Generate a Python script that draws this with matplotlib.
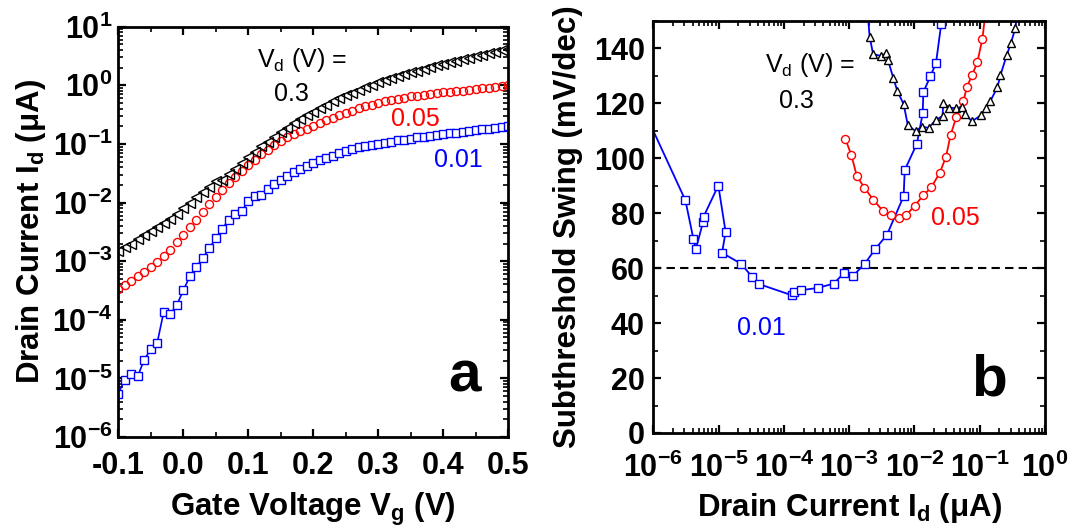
import numpy as np
import matplotlib
matplotlib.use('Agg')
import matplotlib.pyplot as plt
from matplotlib.ticker import MultipleLocator, LogLocator, FuncFormatter, NullFormatter

plt.rcParams['font.family'] = ['Liberation Sans', 'DejaVu Sans']
plt.rcParams['mathtext.fontset'] = 'custom'
plt.rcParams['mathtext.rm'] = 'Liberation Sans'
plt.rcParams['mathtext.bf'] = 'Liberation Sans:bold'
plt.rcParams['mathtext.it'] = 'Liberation Sans:italic'
plt.rcParams['axes.unicode_minus'] = False

# ---- panel a: transfer curves, log10 of Id (uA) vs Vg (V)
vg = [-0.10, -0.09, -0.08, -0.07, -0.06, -0.05, -0.04, -0.03, -0.02, -0.01,
      0.00, 0.01, 0.02, 0.03, 0.04, 0.05, 0.06, 0.07, 0.08, 0.09,
      0.10, 0.11, 0.12, 0.13, 0.14, 0.15, 0.16, 0.17, 0.18, 0.19,
      0.20, 0.21, 0.22, 0.23, 0.24, 0.25, 0.26, 0.27, 0.28, 0.29,
      0.30, 0.31, 0.32, 0.33, 0.34, 0.35, 0.36, 0.37, 0.38, 0.39,
      0.40, 0.41, 0.42, 0.43, 0.44, 0.45, 0.46, 0.47, 0.48, 0.49, 0.50]

log_id_001 = [-5.26, -5.02, -4.92, -4.96, -4.68, -4.50, -4.39, -3.86, -3.90, -3.75,
              -3.50, -3.26, -3.10, -2.95, -2.78, -2.61, -2.45, -2.29, -2.19, -2.15,
              -1.97, -1.88, -1.87, -1.77, -1.68, -1.61, -1.54, -1.48, -1.42, -1.37,
              -1.33, -1.28, -1.24, -1.20, -1.16, -1.12, -1.09, -1.06, -1.04, -1.02,
              -1.00, -0.98, -0.96, -0.94, -0.93, -0.91, -0.89, -0.88, -0.86, -0.85,
              -0.83, -0.82, -0.81, -0.79, -0.78, -0.77, -0.75, -0.74, -0.73, -0.71, -0.70]

log_id_005 = [-3.48, -3.40, -3.34, -3.26, -3.18, -3.10, -3.01, -2.92, -2.81, -2.68,
              -2.55, -2.42, -2.29, -2.16, -2.03, -1.90, -1.78, -1.66, -1.56, -1.46,
              -1.36, -1.27, -1.18, -1.10, -1.02, -0.95, -0.89, -0.83, -0.78, -0.74,
              -0.69, -0.64, -0.59, -0.55, -0.51, -0.47, -0.43, -0.39, -0.36, -0.33,
              -0.30, -0.27, -0.25, -0.23, -0.21, -0.19, -0.18, -0.16, -0.15, -0.13,
              -0.12, -0.11, -0.10, -0.09, -0.08, -0.07, -0.05, -0.04, -0.03, -0.01, 0.00]

log_id_03 = [-2.82, -2.76, -2.70, -2.63, -2.56, -2.49, -2.42, -2.35, -2.28, -2.19,
             -2.09, -2.00, -1.91, -1.82, -1.73, -1.64, -1.61, -1.52, -1.43, -1.33,
             -1.22, -1.13, -1.04, -0.96, -0.88, -0.80, -0.72, -0.65, -0.58, -0.51,
             -0.45, -0.39, -0.33, -0.27, -0.22, -0.17, -0.13, -0.08, -0.03, 0.01,
             0.05, 0.09, 0.12, 0.16, 0.19, 0.22, 0.25, 0.28, 0.31, 0.34,
             0.37, 0.40, 0.42, 0.45, 0.47, 0.50, 0.52, 0.55, 0.57, 0.60, 0.62]

# ---- panel b: subthreshold swing (mV/dec) vs Id (uA)
id_b_001 = [8.0e-7, 3.1e-6, 4.1e-6, 4.5e-6, 5.8e-6, 5.9e-6, 9.9e-6, 1.28e-5, 1.13e-5,
            2.22e-5, 3.24e-5, 4.19e-5, 1.34e-4, 1.41e-4, 1.85e-4, 3.28e-4, 5.83e-4,
            8.43e-4, 1.16e-3, 1.73e-3, 2.5e-3, 3.8e-3, 6.84e-3, 7.1e-3, 1.09e-2,
            1.34e-2, 1.37e-2, 1.76e-2, 2.14e-2, 2.57e-2, 2.8e-2]
ss_001 = [115, 84.7, 70.8, 67.1, 77.0, 78.8, 90.1, 73.2, 65.6,
          61.6, 56.9, 54.2, 50.1, 51.5, 52.0, 52.8, 54.4,
          58.4, 57.3, 61.6, 66.9, 72.2, 86.2, 95.7, 105.3,
          116.4, 124.1, 129.9, 134.7, 148.8, 165]

id_b_005 = [8.73e-4, 1.08e-3, 1.31e-3, 1.71e-3, 2.33e-3, 3.28e-3, 4.3e-3, 5.83e-3,
            7.45e-3, 1.01e-2, 1.37e-2, 1.82e-2, 2.45e-2, 3.05e-2, 3.57e-2, 4.4e-2,
            5.62e-2, 6.35e-2, 7.64e-2, 9.18e-2, 0.110, 0.132]
ss_005 = [107.1, 101.2, 93.6, 89.3, 85.0, 80.9, 79.2, 78.2,
          79.2, 82.8, 86.5, 89.5, 94.8, 100.6, 108.4, 115.1,
          120.7, 125.9, 130.3, 134.9, 143.5, 160]

id_b_03 = [1.75e-3, 2.06e-3, 2.33e-3, 3.09e-3, 3.71e-3, 3.94e-3, 4.74e-3, 5.49e-3,
           6.84e-3, 7.92e-3, 1.04e-2, 1.29e-2, 1.65e-2, 2.11e-2, 2.70e-2, 2.76e-2,
           3.36e-2, 4.4e-2, 5.3e-2, 5.98e-2, 7.64e-2, 0.106, 0.125, 0.146,
           0.187, 0.208, 0.26, 0.30, 0.353, 0.40]
ss_03 = [165, 144.3, 137.9, 137.3, 138.2, 135.7, 129.3, 124.4,
         119.7, 112.1, 109.9, 111.5, 111.1, 113.9, 115.4, 120.3,
         118.5, 118.2, 118.8, 116.0, 113.5, 115.8, 118.5, 120.9,
         125.9, 130.3, 137.6, 141.9, 147.5, 160]

fig = plt.figure(figsize=(10.84, 5.29), dpi=100)
ax1 = fig.add_axes([0.1091, 0.1739, 0.3598, 0.7756])
ax2 = fig.add_axes([0.6027, 0.1815, 0.3613, 0.7788])


def style_axes(ax):
    for s in ax.spines.values():
        s.set_linewidth(2)
    ax.tick_params(which='both', direction='in', top=True, right=True)
    ax.tick_params(which='major', length=6, width=1.6, labelsize=22)
    ax.tick_params(which='minor', length=3.5, width=1.2)
    for lab in ax.get_xticklabels() + ax.get_yticklabels():
        lab.set_fontweight('bold')


def pow10(v, pos):
    return r'$\mathbf{10^{%d}}$' % int(round(np.log10(v)))


# panel a
vg_arr = np.array(vg)
ax1.plot(vg_arr, 10 ** np.array(log_id_001), '-', color='blue', lw=1.2,
         marker='s', ms=5.2, mfc='white', mec='blue', mew=1.0)
ax1.plot(vg_arr, 10 ** np.array(log_id_005), 'none', marker='o', ms=5.8,
         mfc='none', mec='red', mew=1.0)
ax1.plot(vg_arr, 10 ** np.array(log_id_03), 'none', marker='<', ms=6.5,
         mfc='none', mec='black', mew=1.0)
ax1.set_yscale('log')
ax1.set_xlim(-0.1, 0.5)
ax1.set_ylim(1e-6, 1e1)
ax1.xaxis.set_major_locator(MultipleLocator(0.1))
ax1.xaxis.set_minor_locator(MultipleLocator(0.05))
ax1.xaxis.set_major_formatter(FuncFormatter(lambda v, p: '%.1f' % v))
ax1.yaxis.set_major_locator(LogLocator(base=10, numticks=20))
ax1.yaxis.set_minor_locator(LogLocator(base=10, subs=np.arange(2, 10), numticks=20))
ax1.yaxis.set_major_formatter(FuncFormatter(pow10))
ax1.yaxis.set_minor_formatter(NullFormatter())
style_axes(ax1)
ax1.tick_params(axis='x', pad=10)
ax1.tick_params(axis='y', pad=4)
ax1.set_xlabel(r'Gate Voltage V$_\mathbf{g}$ (V)', fontsize=22.5, fontweight='bold')
ax1.set_ylabel(r'Drain Current I$_\mathbf{d}$ (μA)', fontsize=22.5, fontweight='bold')
ax1.xaxis.set_label_coords(0.5, -0.13)
ax1.xaxis.label.set_va('top')
ax1.yaxis.set_label_coords(-0.225, 0.5)
ax1.yaxis.label.set_va('center')

ax1.text(0.355, 0.902, r'V$_\mathrm{d}$ (V) =', transform=ax1.transAxes, fontsize=18)
ax1.text(0.40, 0.818, '0.3', transform=ax1.transAxes, fontsize=18, color='black')
ax1.text(0.700, 0.757, '0.05', transform=ax1.transAxes, fontsize=18, color='red')
ax1.text(0.810, 0.657, '0.01', transform=ax1.transAxes, fontsize=18, color='blue')
ax1.text(0.845, 0.112, 'a', transform=ax1.transAxes, fontsize=42, fontweight='bold')

# panel b
ax2.axhline(60, color='black', lw=1.5, ls=(0, (4, 2.5)))
ax2.plot(id_b_001, ss_001, '-', color='blue', lw=1.3,
         marker='s', ms=5.4, mfc='white', mec='blue', mew=1.0)
ax2.plot(id_b_005, ss_005, '-', color='red', lw=1.3,
         marker='o', ms=5.8, mfc='white', mec='red', mew=1.0)
ax2.plot(id_b_03, ss_03, '-', color='blue', lw=1.3,
         marker='^', ms=6.4, mfc='white', mec='black', mew=1.0)
ax2.set_xscale('log')
ax2.set_xlim(1e-6, 1e0)
ax2.set_ylim(0, 150)
ax2.yaxis.set_major_locator(MultipleLocator(20))
ax2.yaxis.set_minor_locator(MultipleLocator(10))
ax2.xaxis.set_major_locator(LogLocator(base=10, numticks=20))
ax2.xaxis.set_minor_locator(LogLocator(base=10, subs=np.arange(2, 10), numticks=20))
ax2.xaxis.set_major_formatter(FuncFormatter(pow10))
ax2.xaxis.set_minor_formatter(NullFormatter())
style_axes(ax2)
ax2.tick_params(axis='x', pad=14)
ax2.tick_params(axis='y', pad=6)
ax2.set_xlabel(r'Drain Current I$_\mathbf{d}$ (μA)', fontsize=22.5, fontweight='bold')
ax2.set_ylabel('Subthreshold Swing (mV/dec)', fontsize=22.5, fontweight='bold')
ax2.xaxis.set_label_coords(0.5, -0.14)
ax2.xaxis.label.set_va('top')
ax2.yaxis.set_label_coords(-0.219, 0.5)
ax2.yaxis.label.set_va('center')

ax2.text(0.285, 0.877, r'V$_\mathrm{d}$ (V) =', transform=ax2.transAxes, fontsize=18)
ax2.text(0.322, 0.788, '0.3', transform=ax2.transAxes, fontsize=18, color='black')
ax2.text(0.708, 0.504, '0.05', transform=ax2.transAxes, fontsize=18, color='red')
ax2.text(0.213, 0.237, '0.01', transform=ax2.transAxes, fontsize=18, color='blue')
ax2.text(0.812, 0.0905, 'b', transform=ax2.transAxes, fontsize=42, fontweight='bold')

fig.savefig('out.png', dpi=100)
